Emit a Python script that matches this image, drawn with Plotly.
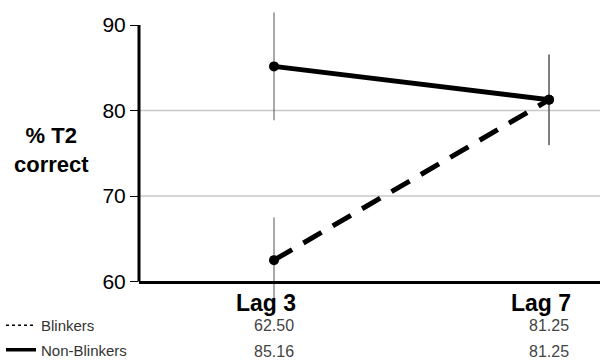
import plotly.graph_objects as go

categories = ["Lag 3", "Lag 7"]
blinkers = [62.50, 81.25]
non_blinkers = [85.16, 81.25]
blinkers_err = [5.0, 5.3]
non_blinkers_err = [6.3, 5.3]
y_ticks = [60, 70, 80, 90]
grid_vals = [70, 80]
row_names = ["Blinkers", "Non-Blinkers"]

# ---- layout geometry (pixels) ----
W, H = 600, 360
L, R, T, B = 139, 0, 8, 56
pw, ph = W - L - R, H - T - B
y60_px, y90_px = 281.5, 25.0          # where 60 and 90 sit on the page
per = (y60_px - y90_px) / 30.0
y_lo = 60 - (H - B - y60_px) / per
y_hi = 90 + (y90_px - T) / per
xaxis_pos = (H - B - y60_px) / ph
cat_px = [274, 549]
f0, f1 = (cat_px[0] - L) / pw, (cat_px[1] - L) / pw
span = 1 / (f1 - f0)
x_lo = -f0 * span
x_hi = x_lo + span


def py(px):  # page y pixel -> paper fraction
    return (H - B - px) / ph


def pxf(px):  # page x pixel -> paper fraction
    return (px - L) / pw


fig = go.Figure()

fig.add_trace(go.Scatter(
    x=categories, y=non_blinkers, mode="lines+markers",
    line=dict(color="black", width=5), marker=dict(color="black", size=10),
    error_y=dict(type="data", array=non_blinkers_err, color="#555", thickness=1, width=0),
    showlegend=False))
fig.add_trace(go.Scatter(
    x=categories, y=blinkers, mode="lines+markers",
    line=dict(color="black", width=5, dash="21px,13px"), marker=dict(color="black", size=10),
    error_y=dict(type="data", array=blinkers_err, color="#555", thickness=1, width=0),
    showlegend=False))

# legend entries for the table rows
fig.add_trace(go.Scatter(x=[None], y=[None], mode="lines", name=row_names[0],
                         line=dict(color="black", width=1.5, dash="dot"), legendgroup="a"))
fig.add_trace(go.Scatter(x=[None], y=[None], mode="lines", name=row_names[1],
                         line=dict(color="black", width=3.5), legendgroup="b"))

for yv in grid_vals:
    fig.add_shape(type="line", xref="paper", yref="y", x0=0, x1=1, y0=yv, y1=yv,
                  line=dict(color="#c8c8c8", width=1.5), layer="below")

# left axis line spanning 60..90 only
fig.add_shape(type="line", xref="paper", yref="y", x0=0, x1=0,
              y0=y_ticks[0], y1=y_ticks[-1], line=dict(color="black", width=3))

for row_vals, ypix in [(blinkers, 325), (non_blinkers, 351.5)]:
    for c, v in zip(categories, row_vals):
        fig.add_annotation(x=c, y=py(ypix), xref="x", yref="paper", text=f"{v:.2f}",
                           showarrow=False, font=dict(size=16, color="#444"),
                           xanchor="center", yanchor="middle")

fig.add_annotation(x=pxf(51), y=py(150), xref="paper", yref="paper",
                   text="<b>% T2<br>correct</b>",
                   showarrow=False, font=dict(size=22, color="black"), align="center",
                   xanchor="center", yanchor="middle")

fig.update_layout(
    width=W, height=H,
    margin=dict(l=L, r=R, t=T, b=B, autoexpand=False),
    paper_bgcolor="white", plot_bgcolor="white",
    font=dict(family="Arial, Liberation Sans, sans-serif", color="black"),
    legend=dict(x=pxf(1), y=py(309), xanchor="left", yanchor="top", orientation="v",
                font=dict(size=15, color="#333"), tracegroupgap=2,
                bgcolor="rgba(0,0,0,0)"),
    xaxis=dict(type="category", range=[x_lo, x_hi], showgrid=False,
               anchor="free", position=xaxis_pos,
               showline=True, linecolor="black", linewidth=3, ticks="",
               tickfont=dict(size=23, color="black"), ticklabelshift=-8,
               tickvals=categories, ticktext=["<b>" + c + "</b>" for c in categories]),
    yaxis=dict(range=[y_lo, y_hi], tickvals=y_ticks, showgrid=False, zeroline=False,
               showline=False, ticks="outside",
               ticklen=8, tickcolor="black", tickwidth=1,
               tickfont=dict(size=21, color="black")),
)

fig.write_html("out.html", post_script="document.body.style.margin='0';",
               config={"displayModeBar": False})
